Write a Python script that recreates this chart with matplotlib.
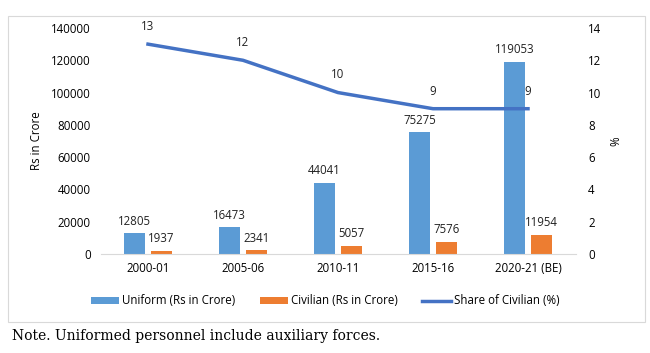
import matplotlib
matplotlib.use("Agg")
import matplotlib.pyplot as plt
from matplotlib.patches import Rectangle
import numpy as np

categories = ["2000-01", "2005-06", "2010-11", "2015-16", "2020-21 (BE)"]
uniform = [12805, 16473, 44041, 75275, 119053]
civilian = [1937, 2341, 5057, 7576, 11954]
share = [13, 12, 10, 9, 9]

plt.rcParams['font.family'] = ['Open Sans', 'DejaVu Sans']
fs = 8.3

fig = plt.figure(figsize=(6.5, 3.53), dpi=100)
fig.patches.append(Rectangle((8/650, 1-322/353), 637/650, 306/353, transform=fig.transFigure,
                             fill=False, edgecolor="#d9d9d9", lw=0.8))
ax = fig.add_axes([100.5/650, 1-254/353, 475/650, 226/353])
x = np.arange(len(categories))
w = 0.23
off = 0.142
b1 = ax.bar(x - off, uniform, w, color="#5B9BD5", label="Uniform (Rs in Crore)")
b2 = ax.bar(x + off, civilian, w, color="#ED7D31", label="Civilian (Rs in Crore)")
for xi, v in zip(x - off, uniform):
    ax.annotate(str(v), (xi, v), xytext=(0, 4), textcoords="offset points", ha="center", va="bottom", fontsize=fs, color="#222222")
for xi, v in zip(x + off, civilian):
    ax.annotate(str(v), (xi, v), xytext=(0, 4), textcoords="offset points", ha="center", va="bottom", fontsize=fs, color="#222222")
ax.set_ylim(0, 140000)
ax.set_yticks(np.arange(0, 140001, 20000))
ax.set_xlim(-0.5, len(categories) - 0.5)
ax.set_xticks(x)
ax.set_xticklabels(categories, fontsize=fs)
ax.tick_params(axis="y", labelsize=fs, length=0, pad=7)
ax.tick_params(axis="x", length=0, pad=6)
for s in ["top", "right", "left"]:
    ax.spines[s].set_visible(False)
ax.spines["bottom"].set_color("#d9d9d9")
ax.set_ylabel("Rs in Crore", fontsize=fs, labelpad=6)

ax2 = ax.twinx()
l, = ax2.plot(x, share, color="#4472C4", lw=2.5, label="Share of Civilian (%)")
for xi, v in zip(x, share):
    ax2.annotate(str(v), (xi, v), xytext=(0, 8), textcoords="offset points", ha="center", va="bottom", fontsize=fs, color="#222222")
ax2.set_ylim(0, 14)
ax2.set_yticks(np.arange(0, 15, 2))
ax2.tick_params(axis="y", labelsize=fs, length=0, pad=9)
for s in ["top", "right", "left", "bottom"]:
    ax2.spines[s].set_visible(False)
ax2.set_ylabel("%", fontsize=fs, labelpad=6)

fig.legend(handles=[b1, b2, l], loc="center", bbox_to_anchor=(0.5, 1-301/353), ncol=3,
           frameon=False, fontsize=fs, handlelength=2.5, handleheight=0.6, columnspacing=2.1, handletextpad=0.25)
fig.text(12/650, 1-336/353, "Note. Uniformed personnel include auxiliary forces.", fontsize=10,
         family=["DejaVu Serif"], va="center", ha="left")
fig.savefig("out.png", dpi=100)
